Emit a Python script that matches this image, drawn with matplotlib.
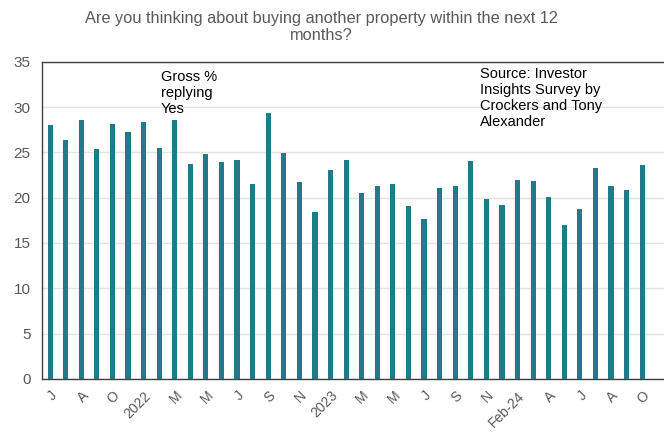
import numpy as np
import matplotlib
matplotlib.use("Agg")
import matplotlib.pyplot as plt

plt.rcParams['font.family'] = ['Liberation Sans', 'DejaVu Sans']

# % replying yes, one value per survey
gross_yes = [28.0, 26.4, 28.6, 25.4, 28.1, 27.3, 28.3, 25.5, 28.6, 23.7,
             24.8, 23.9, 24.2, 21.5, 29.3, 24.9, 21.7, 18.4, 23.0, 24.2,
             20.5, 21.3, 21.5, 19.1, 17.6, 21.1, 21.3, 24.1, 19.8, 19.2,
             22.0, 21.8, 20.1, 17.0, 18.8, 23.3, 21.3, 20.9, 23.6]

# labels shown on every second bar
tick_labels = ['J', 'A', 'O', '2022', 'M', 'M', 'J', 'S', 'N', '2023',
               'M', 'M', 'J', 'S', 'N', 'Feb-24', 'A', 'J', 'A', 'O']

grey = '#595959'

fig = plt.figure(figsize=(6.64, 4.32), dpi=100)
ax = fig.add_axes([0.063, 0.123, 0.937, 0.734])

x = np.arange(len(gross_yes))
ax.bar(x, gross_yes, width=0.33, color='#217A8A', zorder=3)

ax.set_xlim(-0.53, 39.4)
ax.set_ylim(0, 35)
ax.set_yticks(np.arange(0, 36, 5))
ax.yaxis.grid(True, color='#E3E3E3', linewidth=1, zorder=0)

ax.set_xticks(x[::2])
ax.set_xticklabels(tick_labels, rotation=45, ha='right', rotation_mode='anchor')
ax.tick_params(axis='both', length=0, labelsize=11, colors=grey)
ax.tick_params(axis='x', labelsize=10, pad=7)
ax.tick_params(axis='y', pad=8)

for s in ['left', 'bottom', 'top']:
    ax.spines[s].set_color('#404040')
    ax.spines[s].set_linewidth(1)
ax.spines['right'].set_visible(False)

ax.text(0.191, 0.975, 'Gross %\nreplying\nYes', transform=ax.transAxes,
        fontsize=10.5, va='top', ha='left', linespacing=1.2)
ax.text(0.704, 0.985, 'Source: Investor\nInsights Survey by\nCrockers and Tony\nAlexander',
        transform=ax.transAxes, fontsize=10.5, va='top', ha='left', linespacing=1.2)

fig.suptitle('Are you thinking about buying another property within the next 12\nmonths?',
             x=0.484, y=0.975, fontsize=11.8, color=grey, linespacing=1.15)

fig.savefig('out.png', dpi=100)
